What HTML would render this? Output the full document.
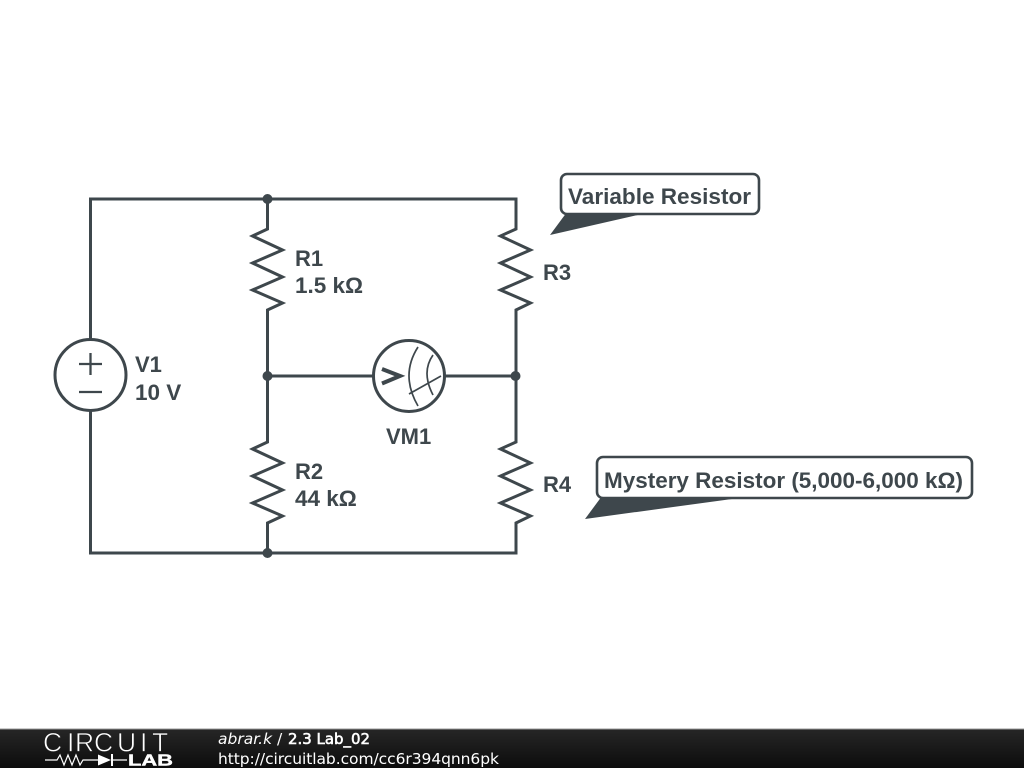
<!DOCTYPE html>
<html><head><meta charset="utf-8"><style>
html,body{margin:0;padding:0;background:#fff;width:1024px;height:768px;overflow:hidden}
svg{display:block;position:absolute;left:0;top:0}
.l{font-family:"Liberation Sans",sans-serif;font-weight:700;font-size:22.5px;fill:#3e474c}
.s{font-size:22px}
.w{fill:none;stroke:#3e474c;stroke-width:3;stroke-linejoin:miter}
.t{fill:none;stroke:#3e474c;stroke-width:1.700}
.f{font-family:"DejaVu Sans",sans-serif;font-size:15.5px;fill:#fff}
</style></head><body>
<svg width="1024" height="768" viewBox="0 0 1024 768" xmlns="http://www.w3.org/2000/svg">
<defs><linearGradient id="g" x1="0" y1="0" x2="0" y2="1"><stop offset="0" stop-color="#262626"/><stop offset="1" stop-color="#0c0c0c"/></linearGradient></defs>
<path class="w" d="M90.500 339V199H516V229L500.500 236L530.500 250L500.500 263L530.500 277L500.500 290L530.500 303L516 310V442L500.500 449L530.500 463L500.500 476L530.500 490L500.500 503L530.500 516L516 523V553H90.500V411"/>
<path class="w" d="M267.500 199V229L252.500 236L282.500 250L252.500 263L282.500 277L252.500 290L282.500 303L267.500 310V442L252.500 449L282.500 463L252.500 476L282.500 490L252.500 503L282.500 516L267.500 523V553"/>
<path class="w" d="M267.500 376H373M445 376H516"/>
<circle cx="267.500" cy="199" r="5" fill="#3e474c"/><circle cx="267.500" cy="376" r="5" fill="#3e474c"/><circle cx="267.500" cy="553" r="5" fill="#3e474c"/><circle cx="515.500" cy="376" r="5" fill="#3e474c"/>
<circle class="w" cx="90.500" cy="375" r="35.500"/>
<path class="t" style="stroke-width:2.300" d="M90.500 353V375M79 364H102M79 392H102"/>
<circle class="w" cx="409" cy="376" r="35.500"/>
<path d="M382 369L400 376L382 383.500" fill="none" stroke="#3e474c" stroke-width="4"/>
<path class="t" d="M418 347Q400 375 418 406M433 355Q421 372 433 395M409 394L441 376"/>
<text class="l s" x="295" y="266">R1</text><text class="l" x="295" y="293">1.5 kΩ</text>
<text class="l s" x="295" y="479">R2</text><text class="l" x="295" y="506">44 kΩ</text>
<text class="l s" x="543" y="280">R3</text><text class="l s" x="543" y="492">R4</text>
<text class="l s" x="135" y="372">V1</text><text class="l" x="135" y="400">10 V</text>
<text class="l s" x="386" y="444">VM1</text>
<path d="M567 212L550 235L651 212Z" fill="#3e474c"/>
<rect class="w" style="fill:#fff;stroke-width:2.600" x="561" y="174" width="198" height="40" rx="6"/>
<text class="l" x="568" y="204" textLength="183" lengthAdjust="spacingAndGlyphs">Variable Resistor</text>
<path d="M602 496L585 519L754 496Z" fill="#3e474c"/>
<rect class="w" style="fill:#fff;stroke-width:2.600" x="597" y="457" width="375" height="41" rx="6"/>
<text class="l" x="604" y="488" textLength="359" lengthAdjust="spacingAndGlyphs">Mystery Resistor (5,000-6,000 kΩ)</text>
<rect x="0" y="729" width="1024" height="39" fill="url(#g)"/>
<rect x="0" y="728.500" width="1024" height="1" fill="#999"/>
<text x="43 67 75 94 117 140 152" y="751.500" font-family="Liberation Sans,sans-serif" font-size="26.500" fill="#fff" stroke="#1e1e1e" stroke-width=".7">CIRCUIT</text>
<path d="M45 760H57L60 755L64 765L68 755L72 765L76 755L80 765L83 760H98M112 760H127" fill="none" stroke="#fff" stroke-width="1.200"/>
<path d="M98 754.500L111 760L98 765.500Z" fill="#fff"/><path d="M112 754V766" stroke="#fff" stroke-width="2"/>
<text x="128" y="765.500" font-family="Liberation Sans,sans-serif" font-weight="700" font-size="15.500" fill="#fff" stroke="#fff" stroke-width=".4" textLength="45" lengthAdjust="spacingAndGlyphs">LAB</text>
<text class="f" x="218" y="744"><tspan font-style="italic">abrar.k</tspan> /</text>
<text class="f" x="288" y="744" stroke="#fff" stroke-width=".6" textLength="82" lengthAdjust="spacingAndGlyphs">2.3 Lab_02</text>
<text class="f" x="218" y="764" textLength="281">http://circuitlab.com/cc6r394qnn6pk</text>
</svg>
</body></html>
